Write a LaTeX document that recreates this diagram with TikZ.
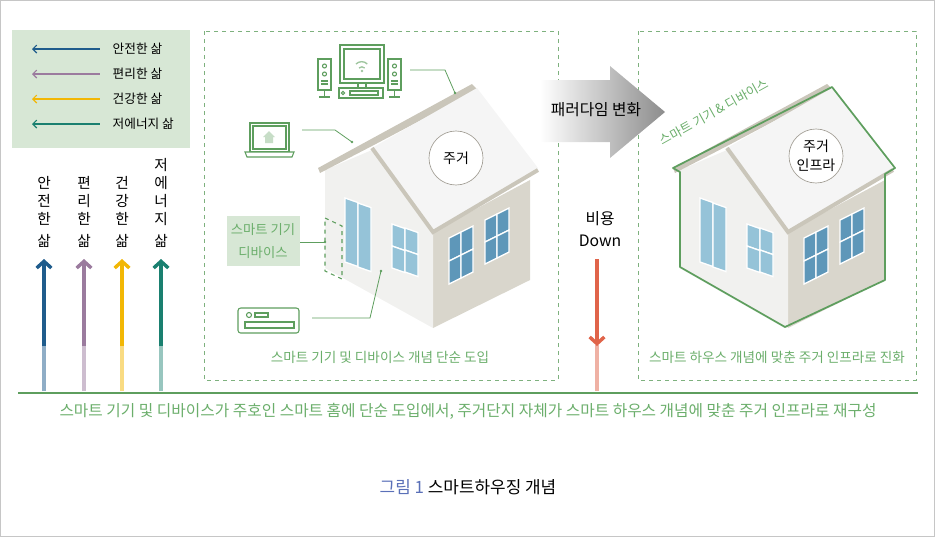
\documentclass[tikz,border=0pt]{standalone}
\usepackage{fontspec}
\setmainfont{Noto Sans CJK KR}
\usetikzlibrary{arrows.meta}
\definecolor{gline}{HTML}{5E9E5E}
\definecolor{gtext}{HTML}{6BAE6B}
\definecolor{gfill}{HTML}{D7E7D5}
\definecolor{cblue}{HTML}{1F5C8C}
\definecolor{cpurple}{HTML}{9B7B9E}
\definecolor{cyellow}{HTML}{F2B705}
\definecolor{cteal}{HTML}{1A8070}
\definecolor{cred}{HTML}{E0644A}
\definecolor{wfront}{HTML}{F1F1EF}
\definecolor{wside}{HTML}{D9D6CC}
\definecolor{rgray}{HTML}{CAC6BA}
\definecolor{winl}{HTML}{95C3D8}
\definecolor{wind}{HTML}{5E97B9}
\tikzset{
  lbl/.style={font=\fontsize{9.5}{11}\selectfont},
  glbl/.style={lbl, text=gtext},
  dbox/.style={draw=gline!80, dashed, line width=0.7pt},
  lead/.style={draw=gline, line width=0.6pt},
  icon/.style={draw=gline, line width=0.8pt, fill=white},
  life/.style={line width=2.6pt, -{Straight Barb[length=5pt,width=11pt]}},
  lifebase/.style={line width=2.6pt},
}
% one window pane: x, y, width, height, slope, colour
\newcommand*{\pane}[6]{%
\filldraw[fill=#6, draw=white, line width=1pt] (#1,#2) -- ++(#3,#3*#5) -- ++(0,#4) -- ++(-#3,-#3*#5) -- cycle;}
\newcommand*{\housebody}{%
\fill[wside] (433,232) -- (530,180) -- (530,280) -- (433,328) -- cycle;
\fill[wfront] (325,170) -- (372,150) -- (433,232) -- (433,328) -- (325,268) -- cycle;
\fill[rgray] (318,168) -- (472,84) -- (478,90) -- (372,146) -- (320,173) -- cycle;
\fill[white!96!black] (372,148) -- (477,88) -- (538,168) -- (433,232) -- cycle;
\draw[rgray, line width=3pt] (372,148) -- (433,232) -- (538,170);
\pane{345}{198}{13}{64}{0.35}{winl}\pane{358}{203}{13}{64}{0.35}{winl}
\pane{392}{224}{13}{22}{0.35}{winl}\pane{405}{228}{13}{22}{0.35}{winl}
\pane{392}{246}{13}{22}{0.35}{winl}\pane{405}{250}{13}{22}{0.35}{winl}
\pane{449}{238}{12}{23}{-0.5}{wind}\pane{461}{232}{12}{23}{-0.5}{wind}
\pane{449}{261}{12}{23}{-0.5}{wind}\pane{461}{255}{12}{23}{-0.5}{wind}
\pane{485}{220}{12}{22}{-0.5}{wind}\pane{497}{214}{12}{22}{-0.5}{wind}
\pane{485}{242}{12}{22}{-0.5}{wind}\pane{497}{236}{12}{22}{-0.5}{wind}}

\begin{document}
\begin{tikzpicture}[x=0.75pt, y=-0.75pt]
\useasboundingbox (0,0) rectangle (935,537);
\draw[gray!45] (0.5,0.5) rectangle (934.5,536.5);

% legend
\fill[gfill] (12,30) rectangle (190,148);
\foreach \yy/\cc/\tt in {49/cblue/안전한 삶, 74/cpurple/편리한 삶, 99/cyellow/건강한 삶, 124/cteal/저에너지 삶}{
  \draw[\cc, line width=0.8pt, {Straight Barb[length=3pt,width=6pt]}-] (32,\yy) -- (100,\yy);
  \node[lbl, anchor=west] at (108,\yy) {\tt};
}

% life columns
\foreach \xx/\cc/\tt [count=\i] in {44/cblue/안\\전\\한\\[3pt]삶, 84/cpurple/편\\리\\한\\[3pt]삶, 122/cyellow/건\\강\\한\\[3pt]삶}{
  \node[lbl, align=center, anchor=south, font=\fontsize{11}{13.5}\selectfont] (col\i) at (\xx,252) {\tt};
  \draw[lifebase, \cc!50] (\xx,391) -- (\xx,345);
  \draw[life, \cc] (\xx,346) -- (\xx,259);
}
\node[lbl, align=center, anchor=south, font=\fontsize{11}{13.5}\selectfont] (col4) at (161,252) {저\\에\\너\\지\\[3pt]삶};
\draw[lifebase, cteal!45] (161,391) -- (161,345);
\draw[life, cteal] (161,346) -- (161,259);

% boxes
\draw[dbox] (204,31) rectangle (558,380);
\draw[dbox] (638,31) rectangle (916,380);
\node[glbl, font=\fontsize{10.2}{12}\selectfont] (capa) at (380,357) {스마트 기기 및 디바이스 개념 단순 도입};
\node[glbl, font=\fontsize{10.2}{12}\selectfont] (capb) at (777,357) {스마트 하우스 개념에 맞춘 주거 인프라로 진화};

% left house
\housebody
\draw[rgray!80!black, line width=0.5pt, fill=white] (456,158) circle (27);
\node[lbl, font=\fontsize{10.5}{12}\selectfont] (jug) at (456,158) {주거};
\draw[gline, dashed, line width=0.8pt] (325,218) -- (342,226) -- (342,279) -- (325,271) -- cycle;

% devices
\draw[icon] (340,45) rectangle (384,83);
\draw[icon] (344,49) rectangle (380,79);
\draw[gline!60, line width=1pt] (356,64) arc[start angle=225, end angle=315, radius=8];
\draw[gline!60, line width=1pt] (359,68) arc[start angle=225, end angle=315, radius=4];
\fill[gline!60] (362,71) circle (1.3);
\draw[icon] (358,83) -- (358,88) (366,83) -- (366,88);
\draw[icon] (339,88) rectangle (383,98);
\draw[icon] (343,93) circle (1.6);
\draw[icon] (350,91) rectangle (378,95);
\foreach \sx in {318,388}{
  \draw[icon] (\sx,59) rectangle (\sx+13,90);
  \draw[icon] (\sx+6.5,66) circle (2);
  \draw[icon] (\sx+6.5,74) circle (2);
  \draw[icon] (\sx+3,81) -- (\sx+10,81) (\sx+3,84) -- (\sx+10,84);
  \draw[icon] (\sx+6.5,90) -- (\sx+6.5,96) (\sx+1,97) -- (\sx+12,97);
}
\draw[icon] (250,123) rectangle (289,152);
\draw[icon] (253,126) rectangle (286,149);
\fill[gline!35] (269,131) -- (275,137) -- (273,137) -- (273,143) -- (265,143) -- (265,137) -- (263,137) -- cycle;
\draw[icon] (245,152) -- (294,152) -- (292,157) -- (247,157) -- cycle;
\draw[icon, rounded corners=2pt] (238,308) rectangle (299,333);
\draw[icon] (249,315) circle (2.5);
\draw[icon] (255,313) rectangle (268,317);
\draw[icon] (245,322) rectangle (294,328);
\fill[gfill] (227,216) rectangle (300,266);
\node[glbl, align=center, font=\fontsize{10}{17}\selectfont] (dev) at (263,241) {스마트 기기\\디바이스};

% leaders
\draw[lead] (410,70) -- (445,70) -- (455,93);
\fill[gline] (455,93) circle (1.3);
\draw[lead] (302,130) -- (335,130) -- (352,142);
\fill[gline] (352,142) circle (1.3);
\draw[lead] (300,242) -- (325,242);
\fill[gline] (325,242) circle (1.3);
\draw[lead] (312,318) -- (370,318) -- (381,271);
\fill[gline] (381,271) circle (1.3);

% paradigm arrow
\shade[left color=white, right color=black!45] (540,80) -- (610,80) -- (610,66) -- (665,112) -- (610,158) -- (610,142) -- (540,142) -- cycle;
\node[lbl, font=\fontsize{11.8}{13}\selectfont] (para) at (596,110) {패러다임 변화};

% cost
\node[lbl, align=center, font=\fontsize{11.8}{17}\selectfont] (cost) at (600,229) {비용\\Down};
\draw[lifebase, cred!50] (597,345) -- (597,391);
\draw[line width=2.6pt, cred, -{Straight Barb[length=5pt,width=11pt]}] (597,259) -- (597,346);

% right house
\begin{scope}[xshift=266.25pt]
\housebody
\draw[gline, line width=1.3pt, line join=round] (325,267) -- (325,172) -- (318,168) -- (477,87) -- (540,168) -- (530,174) -- (530,280) -- (430,327) -- cycle;
\draw[rgray!80!black, line width=0.5pt, fill=white] (461,156) circle (27);
\node[lbl, align=center, font=\fontsize{10.5}{14}\selectfont] (infra) at (461,156) {주거\\인프라};
\end{scope}
\node[glbl, rotate=29, font=\fontsize{9.5}{11}\selectfont] (roof) at (714,112) {스마트 기기 \& 디바이스};

% ground
\draw[gline, line width=2.2pt] (18,393) -- (918,393);
\node[glbl, font=\fontsize{11.8}{13}\selectfont] (summ) at (468,411) {스마트 기기 및 디바이스가 주호인 스마트 홈에 단순 도입에서, 주거단지 자체가 스마트 하우스 개념에 맞춘 주거 인프라로 재구성};
\node[lbl, font=\fontsize{12.7}{14}\selectfont] (fig) at (468,487) {\textcolor[HTML]{5A70B8}{그림 1} 스마트하우징 개념};
\end{tikzpicture}
\end{document}
